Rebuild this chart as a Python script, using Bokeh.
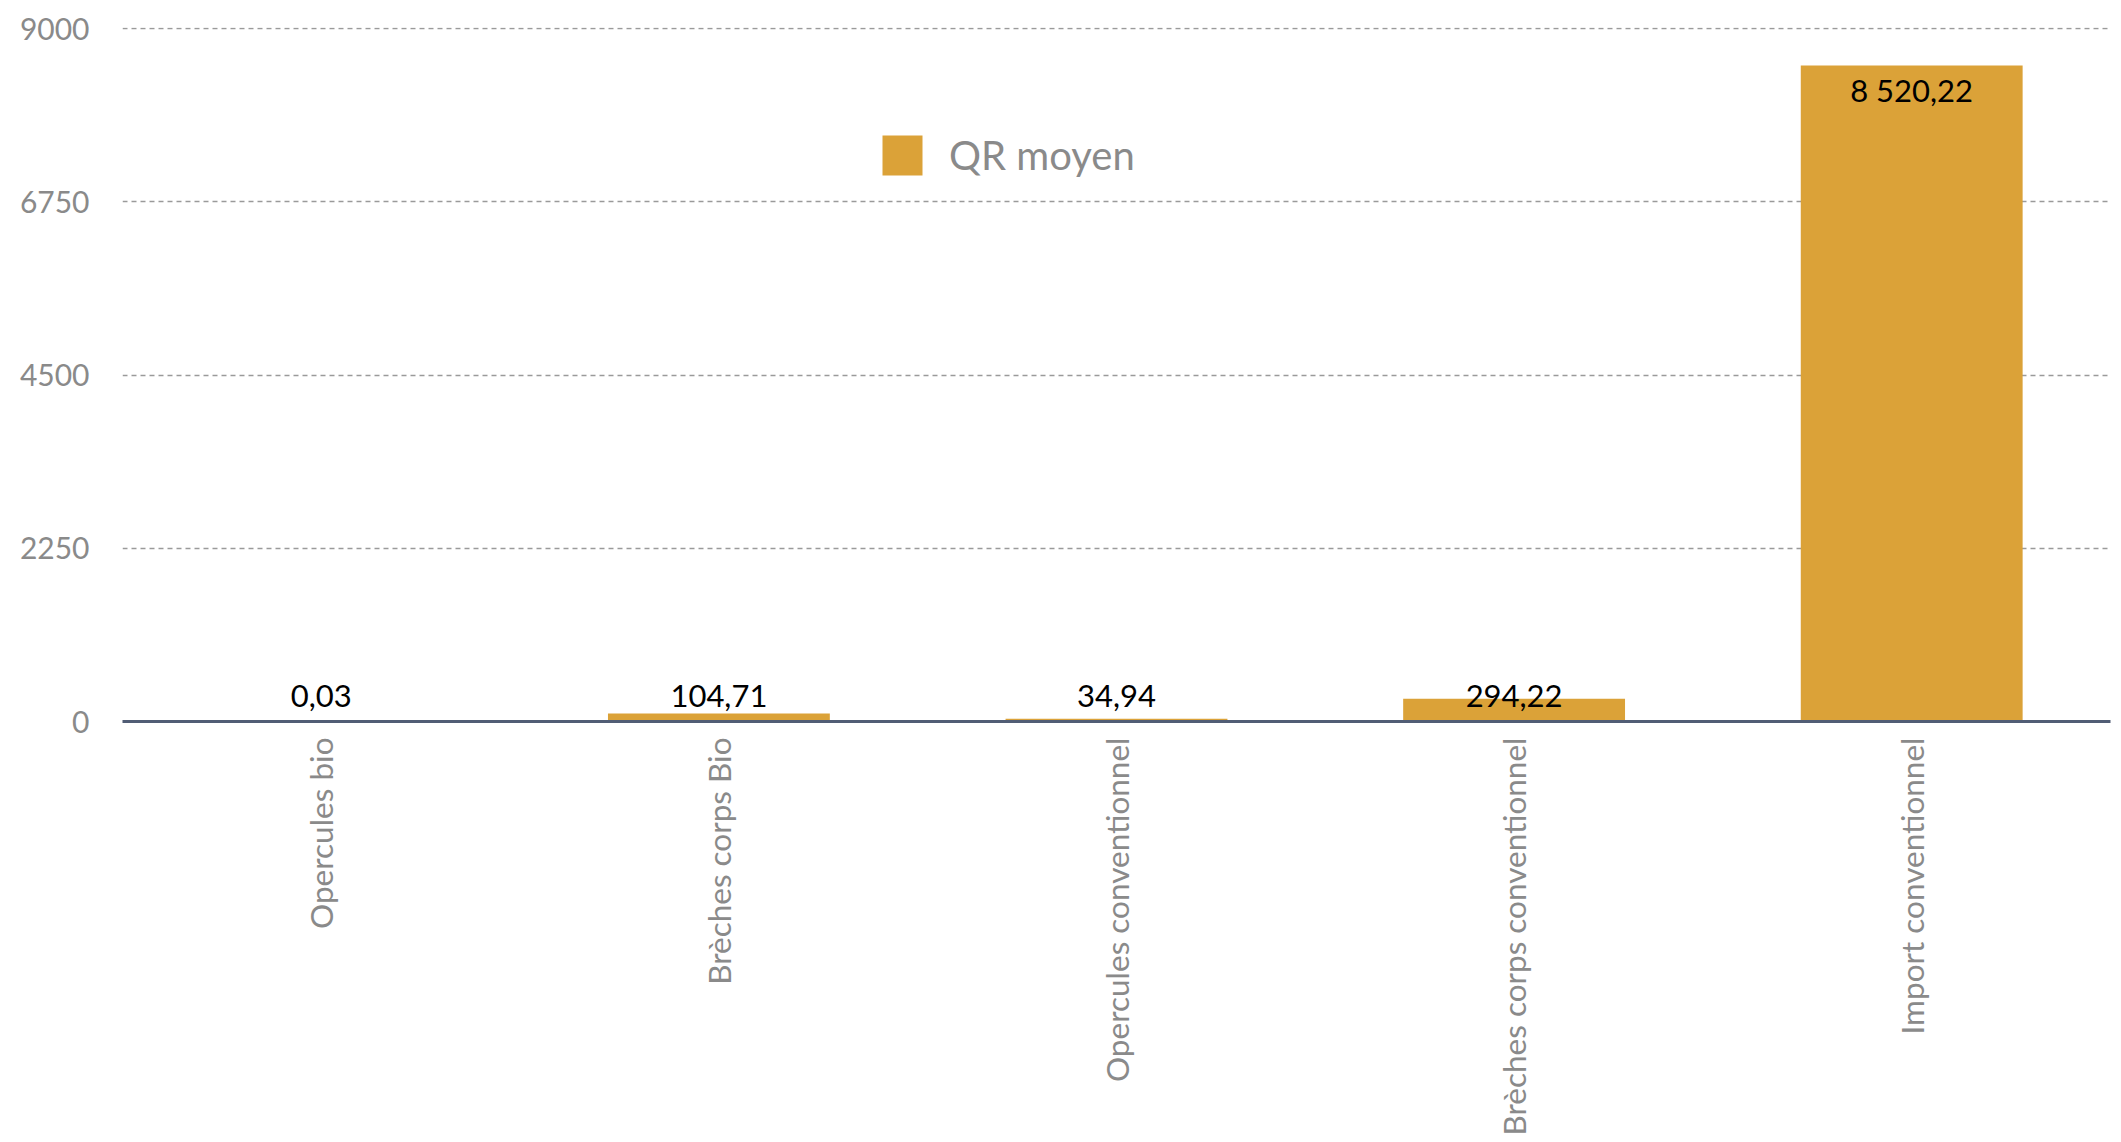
import math
from bokeh.plotting import figure
from bokeh.models import ColumnDataSource, FixedTicker, Legend, LegendItem, Range1d
from bokeh.embed import file_html
from bokeh.resources import INLINE
from bokeh.core.properties import value

# ---- data ----
categories = ["Opercules bio", "Brèches corps Bio", "Opercules conventionnel",
              "Brèches corps conventionnel", "Import conventionnel"]
qr_moyen = [0.03, 104.71, 34.94, 294.22, 8520.22]
y_ticks = [0, 2250, 4500, 6750, 9000]
series_name = "QR moyen"

Y_MAX = 9000
FONT = "Lato"
BAR_COLOR = "#DBA238"
GREY = "#8a8a8a"


def fr(v):
    s = f"{v:,.2f}"
    return s.replace(",", "\u202f").replace(".", ",")


labels = [fr(v) for v in qr_moyen]
inside = [v > 0.1 * Y_MAX for v in qr_moyen]
src = ColumnDataSource(dict(
    cat=categories,
    val=qr_moyen,
    lab=labels,
    ly=[v if ins else 0 for v, ins in zip(qr_moyen, inside)],
    loff=[25 if ins else -26 for ins in inside],
))

p = figure(x_range=categories, y_range=Range1d(0, Y_MAX * 694 / 693),
           frame_width=1988, frame_height=694,
           min_border_left=122, min_border_right=11, min_border_top=27, min_border_bottom=0,
           output_backend="svg", toolbar_location=None)
p.outline_line_color = None
p.background_fill_color = "white"
p.border_fill_color = "white"

r = p.vbar(x="cat", top="val", width=0.558, source=src, fill_color=BAR_COLOR, line_color=None)

p.text(x="cat", y="ly", text="lab", y_offset="loff", source=src,
       text_align="center", text_baseline="middle",
       text_font=value(FONT), text_font_size="31px", text_color="black")

# y axis
p.yaxis.ticker = FixedTicker(ticks=y_ticks)
p.yaxis.axis_line_color = None
p.yaxis.major_tick_line_color = None
p.yaxis.minor_tick_line_color = None
p.yaxis.major_label_text_font = FONT
p.yaxis.major_label_text_font_size = "30px"
p.yaxis.major_label_text_color = GREY
p.yaxis.major_label_standoff = 27

# x axis
p.xaxis.axis_line_color = "#515d75"
p.xaxis.axis_line_width = 3
p.xaxis.major_tick_line_color = None
p.xaxis.minor_tick_line_color = None
p.xaxis.major_label_orientation = math.pi / 2
p.xaxis.major_label_text_font = FONT
p.xaxis.major_label_text_font_size = "31.5px"
p.xaxis.major_label_text_color = GREY
p.xaxis.major_label_standoff = 10

# grid
p.xgrid.grid_line_color = None
p.ygrid.ticker = FixedTicker(ticks=y_ticks)
p.ygrid.grid_line_color = "#9a9a9a"
p.ygrid.grid_line_width = 1.5
p.ygrid.grid_line_dash = "5 4"

legend = Legend(items=[LegendItem(label=series_name, renderers=[r])],
                location=(755, 541), orientation="horizontal",
                glyph_width=50, glyph_height=50, label_standoff=22,
                label_text_font=FONT, label_text_font_size="40px",
                label_text_color=GREY, border_line_color=None,
                background_fill_alpha=0, padding=0, margin=0)
p.add_layout(legend)

open("out.html", "w").write(file_html(p, INLINE))
